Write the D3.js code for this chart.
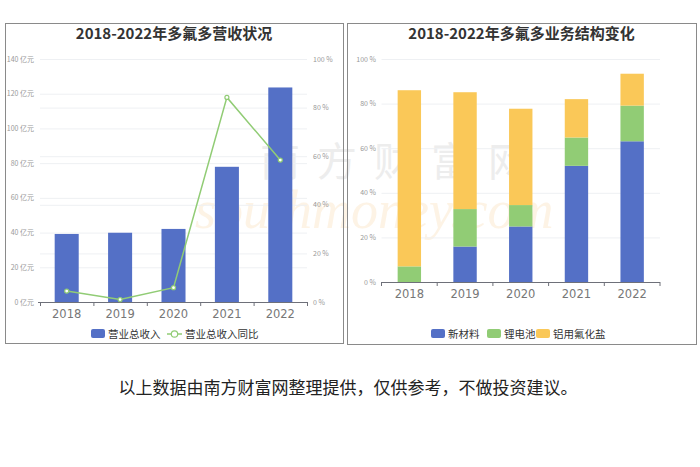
<!DOCTYPE html>
<html><head><meta charset="utf-8">
<script src="https://cdn.jsdelivr.net/npm/d3@7/dist/d3.min.js"></script>
<style>body{margin:0;background:#fff}svg{display:block}</style>
</head><body>
<svg id="c" width="700" height="467"></svg>
<script>
const years = ["2018","2019","2020","2021","2022"];
const revenue = [39.2, 39.9, 42.1, 77.9, 123.6];
const revenueYoY = [4.5, 1.0, 5.9, 84.2, 58.4];
const leftTicks = [0,20,40,60,80,100,120,140];
const rightTicks = [0,20,40,60,80,100];
const newMaterial = [0, 15.9, 24.9, 52.1, 63.1];
const lithium = [7.0, 16.8, 9.6, 12.7, 16.0];
const aluminumFluoride = [79.0, 52.4, 43.2, 17.2, 14.3];
const structTicks = [0,20,40,60,80,100];
const segNames = ["新材料","锂电池","铝用氟化盐"];

const BLUE="#5470c6", GREEN="#91cc75", YELLOW="#fac858";
const CJK = "'Noto Sans CJK SC','Noto Sans',sans-serif";
const svg = d3.select("#c");

// watermark
const wm = svg.append("g");
wm.append("text").attr("x",260).attr("y",176)
  .attr("font-family",CJK).attr("font-size",40).attr("fill","#c4c4c4").attr("opacity",0.3)
  .attr("letter-spacing",17).text("南方财富网");
wm.append("text").attr("x",195).attr("y",228)
  .attr("font-family","'Liberation Serif',serif").attr("font-style","italic").attr("font-size",54)
  .attr("fill","#f6c47f").attr("opacity",0.2).text("southmoney.com");

function panel(x0,y0,w,h,title){
  svg.append("rect").attr("x",x0+0.5).attr("y",y0+0.5).attr("width",w).attr("height",h)
    .attr("fill","none").attr("stroke","#8a8a8a").attr("stroke-width",1);
  svg.append("text").attr("x",x0+w/2).attr("y",y0+16).attr("text-anchor","middle")
    .attr("font-family",CJK).attr("font-weight","bold").attr("font-size",15).attr("fill","#333").text(title);
}
panel(5,23,338,320,"2018-2022年多氟多营收状况");
panel(347,23,349,321,"2018-2022年多氟多业务结构变化");

// ---- Left chart
{
  const x = d3.scaleBand().domain(years).range([40,307]).paddingInner(0.55).paddingOuter(0.275);
  const yL = d3.scaleLinear().domain([0,140]).range([302,59]);
  const yR = d3.scaleLinear().domain([0,100]).range([302,59]);
  const g = svg.append("g");
  g.selectAll(".gl").data(leftTicks).join("line").attr("x1",40).attr("x2",307)
    .attr("y1",d=>yL(d)+0.5).attr("y2",d=>yL(d)+0.5).attr("stroke","#eef0f3");
  g.selectAll(".gr").data(rightTicks.slice(1)).join("line").attr("x1",40).attr("x2",307)
    .attr("y1",d=>yR(d)+0.5).attr("y2",d=>yR(d)+0.5).attr("stroke","#eef0f3");
  g.selectAll(".lt").data(leftTicks).join("text").attr("x",34).attr("y",d=>yL(d)+2.5)
    .attr("text-anchor","end").attr("font-family",CJK).attr("font-size",7).attr("fill","#999")
    .text(d=>d+" 亿元");
  g.selectAll(".rt").data(rightTicks).join("text").attr("x",313).attr("y",d=>yR(d)+2.5)
    .attr("font-family",CJK).attr("font-size",7).attr("fill","#999").text(d=>d+" %");
  g.selectAll(".bar").data(revenue).join("rect").attr("x",(d,i)=>x(years[i])).attr("width",x.bandwidth())
    .attr("y",d=>yL(d)).attr("height",d=>302-yL(d)).attr("fill",BLUE);
  const ax = g.append("g").attr("transform","translate(0,302)");
  ax.append("line").attr("x1",38).attr("x2",307).attr("y1",0.5).attr("y2",0.5).attr("stroke","#6e7079");
  const step = (307-40)/5;
  ax.selectAll(".tk").data(d3.range(6)).join("line").attr("x1",d=>40+d*step+0.5).attr("x2",d=>40+d*step+0.5)
    .attr("y1",0).attr("y2",4).attr("stroke","#6e7079");
  ax.selectAll(".xl").data(years).join("text").attr("x",d=>x(d)+x.bandwidth()/2).attr("y",16)
    .attr("text-anchor","middle").attr("font-family","'DejaVu Sans',sans-serif").attr("font-size",11.5)
    .attr("fill","#777").text(d=>d);
  const line = d3.line().x((d,i)=>x(years[i])+x.bandwidth()/2).y(d=>yR(d));
  g.append("path").attr("d",line(revenueYoY)).attr("fill","none").attr("stroke",GREEN).attr("stroke-width",1.5);
  g.selectAll(".pt").data(revenueYoY).join("circle").attr("cx",(d,i)=>x(years[i])+x.bandwidth()/2)
    .attr("cy",d=>yR(d)).attr("r",2).attr("fill","#fff").attr("stroke",GREEN).attr("stroke-width",1.2);
  // legend
  const lg = g.append("g");
  lg.append("rect").attr("x",91).attr("y",329).attr("width",14).attr("height",9).attr("rx",2).attr("fill",BLUE);
  lg.append("text").attr("x",108).attr("y",337.5).attr("font-family",CJK).attr("font-size",10.5).attr("fill","#333").text("营业总收入");
  lg.append("line").attr("x1",167).attr("x2",182).attr("y1",334).attr("y2",334).attr("stroke",GREEN).attr("stroke-width",1.5);
  lg.append("circle").attr("cx",174.5).attr("cy",334).attr("r",3.2).attr("fill","#fff").attr("stroke",GREEN).attr("stroke-width",1.2);
  lg.append("text").attr("x",185).attr("y",337.5).attr("font-family",CJK).attr("font-size",10.5).attr("fill","#333").text("营业总收入同比");
}

// ---- Right chart
{
  const x = d3.scaleBand().domain(years).range([381.5,660]).paddingInner(0.58).paddingOuter(0.29);
  const y = d3.scaleLinear().domain([0,100]).range([282,59]);
  const g = svg.append("g");
  g.selectAll(".gl").data(structTicks.slice(1)).join("line").attr("x1",381.5).attr("x2",660)
    .attr("y1",d=>y(d)+0.5).attr("y2",d=>y(d)+0.5).attr("stroke","#eef0f3");
  g.selectAll(".lt").data(structTicks).join("text").attr("x",376).attr("y",d=>y(d)+2.5)
    .attr("text-anchor","end").attr("font-family",CJK).attr("font-size",7).attr("fill","#999").text(d=>d+" %");
  const rows = years.map((yr,i)=>({year:yr, "新材料":newMaterial[i], "锂电池":lithium[i], "铝用氟化盐":aluminumFluoride[i]}));
  const stack = d3.stack().keys(segNames)(rows);
  const colors = [BLUE,GREEN,YELLOW];
  stack.forEach((s,k)=>{
    g.selectAll(".s"+k).data(s).join("rect").attr("x",d=>x(d.data.year)).attr("width",x.bandwidth())
      .attr("y",d=>y(d[1])).attr("height",d=>y(d[0])-y(d[1])).attr("fill",colors[k]);
  });
  const ax = g.append("g").attr("transform","translate(0,282)");
  ax.append("line").attr("x1",381.5).attr("x2",660).attr("y1",0.5).attr("y2",0.5).attr("stroke","#6e7079");
  const step = (660-381.5)/5;
  ax.selectAll(".tk").data(d3.range(6)).join("line").attr("x1",d=>381.5+d*step).attr("x2",d=>381.5+d*step)
    .attr("y1",0).attr("y2",4).attr("stroke","#6e7079");
  ax.selectAll(".xl").data(years).join("text").attr("x",d=>x(d)+x.bandwidth()/2).attr("y",16)
    .attr("text-anchor","middle").attr("font-family","'DejaVu Sans',sans-serif").attr("font-size",11.5)
    .attr("fill","#777").text(d=>d);
  const lx = [431,487,536];
  segNames.forEach((n,k)=>{
    g.append("rect").attr("x",lx[k]).attr("y",329).attr("width",14).attr("height",9).attr("rx",2).attr("fill",colors[k]);
    g.append("text").attr("x",lx[k]+17).attr("y",337.5).attr("font-family",CJK).attr("font-size",10.5).attr("fill","#333").text(n);
  });
}

svg.append("text").attr("x",348).attr("y",394).attr("text-anchor","middle").attr("font-family",CJK)
  .attr("font-size",17).attr("fill","#222").text("以上数据由南方财富网整理提供，仅供参考，不做投资建议。");
</script>
</body></html>
